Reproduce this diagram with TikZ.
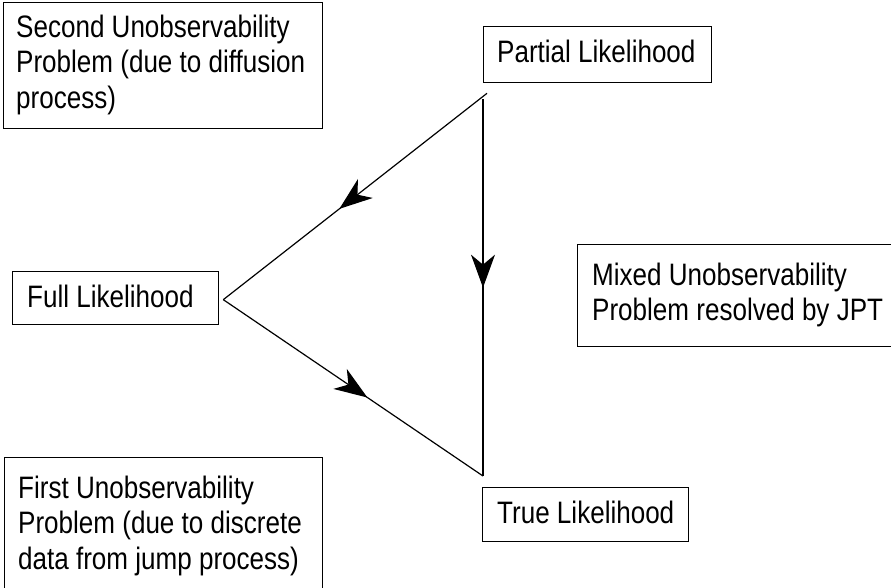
\documentclass[tikz,border=0pt]{standalone}
\usepackage{fontspec}
\setmainfont[FakeStretch=0.84]{Liberation Sans}
\usetikzlibrary{arrows.meta,decorations.markings,calc}
\tikzset{
  box/.style={draw=black, line width=1.3pt, inner sep=0pt, anchor=north west},
  lbl/.style={inner sep=0pt, anchor=base west, font=\fontsize{31}{35.5}\selectfont},
  conn/.style={line width=1.2pt},
  midarrow/.style={postaction={decorate}, decoration={markings,
     mark=at position #1 with {\arrow{Stealth[length=33pt,width=24pt,inset=10pt]}}}}
}
\newcommand{\ml}[1]{\begin{tabular}[t]{@{}l@{}}#1\end{tabular}}
\begin{document}
\begin{tikzpicture}[x=1pt,y=-1pt]
\useasboundingbox (0,0) rectangle (891,587);
\clip (0,0) rectangle (891,587);
% boxes
\node[box, minimum width=319pt, minimum height=126pt] (second) at (3,2) {};
\node[box, minimum width=228pt, minimum height=56pt] (partial) at (483,26) {};
\node[box, minimum width=206pt, minimum height=53pt] (full) at (12,271) {};
\node[box, minimum width=330pt, minimum height=102pt] (mixed) at (577,244) {};
\node[box, minimum width=206pt, minimum height=54pt] (true) at (482,487) {};
\node[box, minimum width=318pt, minimum height=150pt] (first) at (4,457) {};
% texts
\node[lbl] (secondt) at (16,37) {\fontsize{31}{35.5}\selectfont\ml{Second Unobservability\\Problem (due to diffusion\\process)}};
\node[lbl] (partialt) at (497,62) {Partial Likelihood};
\node[lbl] (fullt) at (27,307) {Full Likelihood};
\node[lbl] (mixedt) at (592,285) {\fontsize{31}{35.5}\selectfont\ml{Mixed Unobservability\\Problem resolved by JPT}};
\node[lbl] (truet) at (497,523) {True Likelihood};
\node[lbl] (firstt) at (18,498) {\fontsize{31}{35.5}\selectfont\ml{First Unobservability\\Problem (due to discrete\\data from jump process)}};
% connector points
\coordinate (s1) at ($(partial.south west)+(4,10)$);
\coordinate (s2) at ($(partial.south west)+(0,16)$);
\coordinate (apex) at ($(full.east)+(4,1.5)$);
\coordinate (e) at ($(true.north west)+(1,-11)$);
\draw[conn, midarrow=0.56] (s1) -- (apex);
\draw[conn, midarrow=0.5] (s2) -- (e);
\draw[conn, midarrow=0.555] (apex) -- (e);
\end{tikzpicture}
\end{document}
